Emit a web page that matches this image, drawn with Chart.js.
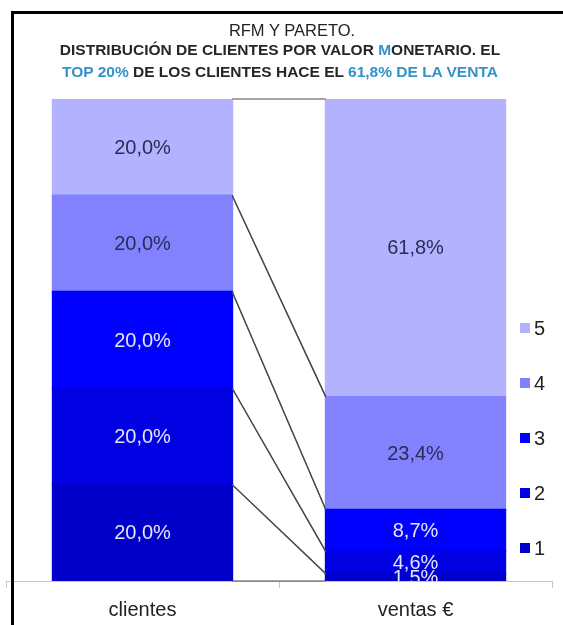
<!DOCTYPE html>
<html lang="es">
<head>
<meta charset="utf-8">
<title>RFM y Pareto</title>
<script src="https://cdn.jsdelivr.net/npm/chart.js@4.4.1/dist/chart.umd.min.js"></script>
<style>
  body {
    margin: 0;
    background: #fff;
    font-family: "Liberation Sans", Arial, Helvetica, sans-serif;
  }
  #wrap {
    position: relative;
    width: 563px;
    height: 625px;
    overflow: hidden;
  }
  #paretoChart {
    position: absolute;
    left: 0;
    top: 0;
  }
  .frame {
    position: absolute;
    left: 11px;
    top: 11px;
    width: 600px;
    height: 700px;
    border-left: 3px solid #000;
    border-top: 3px solid #000;
    z-index: 2;
    pointer-events: none;
  }
  .title {
    position: absolute;
    left: 12px;
    width: 560px;
    top: 19px;
    line-height: 22px;
    font-size: 16.5px;
    color: #222;
    text-align: center;
    z-index: 3;
  }
  .subtitle {
    position: absolute;
    left: 0;
    width: 560px;
    top: 39px;
    line-height: 22px;
    font-size: 15.5px;
    font-weight: bold;
    color: #262626;
    text-align: center;
    z-index: 3;
  }
  .hl {
    color: #3392c8;
  }
</style>
</head>
<body>
<div id="wrap">
  <div class="frame"></div>
  <div class="title">RFM Y PARETO.</div>
  <div class="subtitle">
    DISTRIBUCIÓN DE CLIENTES POR VALOR <span class="hl">M</span>ONETARIO. EL<br>
    <span class="hl">TOP 20%</span> DE LOS CLIENTES HACE EL <span class="hl">61,8% DE LA VENTA</span>
  </div>
  <canvas id="paretoChart" width="563" height="635"></canvas>
</div>

<script>
// Segmentos RFM (1 = menor valor monetario, 5 = mayor)
const categories = ["clientes", "ventas €"];
const segmentNames = ["1", "2", "3", "4", "5"];
const clientesShare = [20.0, 20.0, 20.0, 20.0, 20.0];
const ventasShare = [1.5, 4.6, 8.7, 23.4, 61.8];
const segmentColors = ["#0000c8", "#0000e2", "#0000ff", "#8282ff", "#b2b2ff"];
const labelColors = ["#e4e4f6", "#e4e4f6", "#e4e4f6", "#2b2b58", "#2b2b58"];

const FONT = '"Liberation Sans", Arial, Helvetica, sans-serif';

function formatPct(value) {
  return value.toFixed(1).replace(".", ",") + "%";
}

// Lineas de serie entre los bordes de cada segmento
const seriesLinesPlugin = {
  id: "seriesLines",
  afterDatasetsDraw(chart) {
    const ctx = chart.ctx;
    ctx.save();
    ctx.strokeStyle = "#4a4a4a";
    ctx.lineWidth = 1.2;
    chart.data.datasets.forEach((ds, i) => {
      const meta = chart.getDatasetMeta(i);
      const left = meta.data[0];
      const right = meta.data[1];
      const pairs = [
        [left.y, right.y],
        [left.base, right.base],
      ];
      pairs.forEach(([y1, y2]) => {
        ctx.beginPath();
        ctx.moveTo(left.x + left.width / 2, y1);
        ctx.lineTo(right.x - right.width / 2, y2);
        ctx.stroke();
      });
    });
    ctx.restore();
  },
};

// Etiquetas de porcentaje centradas en cada segmento
const segmentLabelsPlugin = {
  id: "segmentLabels",
  afterDatasetsDraw(chart) {
    const ctx = chart.ctx;
    const area = chart.chartArea;
    ctx.save();
    ctx.beginPath();
    ctx.rect(area.left, area.top, area.right - area.left, area.bottom - area.top);
    ctx.clip();
    ctx.font = "20px " + FONT;
    ctx.textAlign = "center";
    ctx.textBaseline = "middle";
    chart.data.datasets.forEach((ds, i) => {
      const meta = chart.getDatasetMeta(i);
      meta.data.forEach((bar, j) => {
        ctx.fillStyle = labelColors[i];
        ctx.fillText(formatPct(ds.data[j]), bar.x, (bar.y + bar.base) / 2 + 1);
      });
    });
    ctx.restore();
  },
};

// Leyenda a la derecha, dentro del area del grafico (5 arriba, 1 abajo)
const sideLegendPlugin = {
  id: "sideLegend",
  afterDraw(chart) {
    const ctx = chart.ctx;
    ctx.save();
    ctx.font = "20px " + FONT;
    ctx.textBaseline = "middle";
    ctx.textAlign = "left";
    const n = segmentNames.length;
    for (let k = 0; k < n; k++) {
      const i = n - 1 - k;
      const y = 328 + k * 55;
      ctx.fillStyle = segmentColors[i];
      ctx.fillRect(520, y - 5, 10, 10);
      ctx.fillStyle = "#222";
      ctx.fillText(segmentNames[i], 534, y + 1);
    }
    ctx.restore();
  },
};

const ctx = document.getElementById("paretoChart").getContext("2d");

new Chart(ctx, {
  type: "bar",
  data: {
    labels: categories,
    datasets: segmentNames.map((name, i) => ({
      label: name,
      data: [clientesShare[i], ventasShare[i]],
      backgroundColor: segmentColors[i],
      borderWidth: 0,
      inflateAmount: 1,
      barPercentage: 1,
      categoryPercentage: 0.657,
    })),
  },
  options: {
    responsive: false,
    animation: false,
    devicePixelRatio: 1,
    layout: {
      padding: { top: 99, left: 6, right: 11, bottom: 3 },
    },
    plugins: {
      legend: { display: false },
      title: { display: false },
      tooltip: { enabled: false },
    },
    scales: {
      x: {
        stacked: true,
        grid: {
          offset: true,
          drawOnChartArea: false,
          drawTicks: true,
          tickLength: 7,
          color: "#c8c8c8",
        },
        border: { display: true, color: "#c8c8c8", width: 1 },
        ticks: {
          color: "#222",
          padding: 10,
          font: { family: FONT, size: 20 },
        },
      },
      y: {
        stacked: true,
        display: false,
        min: 0,
        max: 100,
      },
    },
  },
  plugins: [seriesLinesPlugin, segmentLabelsPlugin, sideLegendPlugin],
});
</script>
</body>
</html>
